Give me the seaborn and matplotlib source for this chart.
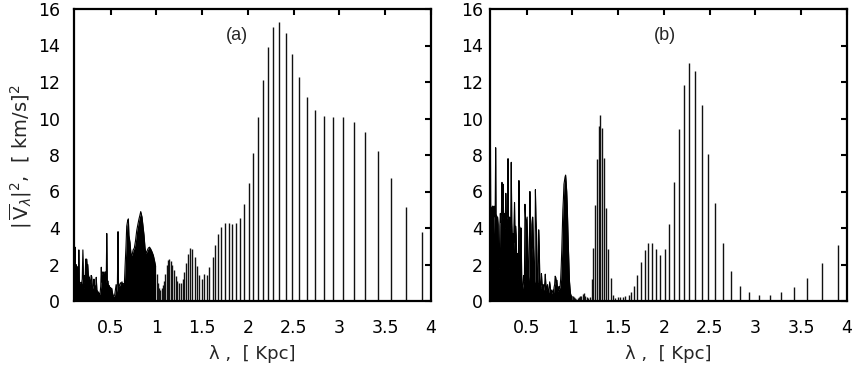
import numpy as np
import matplotlib
matplotlib.use("Agg")
import matplotlib.pyplot as plt
import seaborn as sns

# dense part of the spectra (lambda < 1 kpc), read as an envelope
lam_dense_a = [0.100, 0.104, 0.108, 0.112, 0.117, 0.122, 0.127, 0.132, 0.137, 0.142,
               0.148, 0.153, 0.158, 0.164, 0.170, 0.176, 0.183, 0.190, 0.197, 0.203,
               0.209, 0.215, 0.221, 0.228, 0.233, 0.238, 0.244, 0.250, 0.256, 0.262,
               0.268, 0.275, 0.281, 0.287, 0.293, 0.299, 0.305, 0.311, 0.318, 0.324,
               0.330, 0.337, 0.343, 0.350, 0.356, 0.363, 0.370, 0.377, 0.384, 0.392,
               0.398, 0.404, 0.410, 0.416, 0.422, 0.428, 0.434, 0.440, 0.446, 0.452,
               0.458, 0.464, 0.470, 0.477, 0.484, 0.491, 0.498, 0.505, 0.512, 0.520,
               0.528, 0.536, 0.545, 0.552, 0.560, 0.567, 0.574, 0.581, 0.586, 0.592,
               0.600, 0.608, 0.616, 0.624, 0.632, 0.640, 0.650, 0.658, 0.668, 0.676,
               0.686, 0.694, 0.700, 0.712, 0.722, 0.734, 0.746, 0.759, 0.772, 0.785,
               0.798, 0.810, 0.820, 0.829, 0.836, 0.843, 0.854, 0.865, 0.876, 0.887,
               0.899, 0.912, 0.925, 0.938, 0.952, 0.967, 0.980, 0.992]
v_dense_a = [2.9, 1.8, 1.1, 2.95, 1.2, 2.0, 1.0, 1.9, 1.2, 1.1,
             1.0, 2.8, 1.1, 1.0, 1.0, 1.0, 0.95, 1.2, 2.8, 1.2,
             0.7, 1.4, 1.1, 2.3, 1.4, 2.3, 1.9, 2.0, 1.5, 1.3,
             1.3, 0.9, 1.0, 1.4, 1.35, 0.8, 0.7, 0.8, 1.2, 0.85,
             0.8, 0.7, 1.3, 0.6, 0.55, 0.5, 0.45, 0.4, 0.35, 0.8,
             1.85, 1.1, 1.0, 1.6, 1.5, 1.0, 1.2, 1.6, 1.0, 1.2,
             3.7, 1.0, 1.1, 0.8, 0.85, 0.7, 0.75, 0.65, 0.7, 0.45,
             0.3, 0.25, 0.35, 0.6, 0.9, 0.5, 0.9, 3.8, 1.0, 0.8,
             0.85, 1.0, 0.95, 1.05, 0.9, 0.95, 0.9, 1.9, 3.0, 4.1,
             4.4, 4.5, 3.6, 3.2, 2.6, 2.5, 2.8, 2.9, 3.3, 3.85,
             4.2, 4.5, 4.7, 4.9, 4.75, 4.6, 4.1, 3.6, 2.9, 2.6,
             2.75, 2.9, 2.95, 2.85, 2.7, 2.5, 2.2, 1.9]

lam_dense_b = [0.100, 0.104, 0.108, 0.114, 0.120, 0.126, 0.132, 0.138, 0.144, 0.150,
               0.156, 0.162, 0.166, 0.171, 0.177, 0.183, 0.189, 0.195, 0.201, 0.207,
               0.213, 0.219, 0.225, 0.231, 0.237, 0.243, 0.249, 0.255, 0.261, 0.267,
               0.273, 0.279, 0.285, 0.291, 0.297, 0.302, 0.308, 0.314, 0.320, 0.326,
               0.332, 0.338, 0.344, 0.350, 0.356, 0.362, 0.368, 0.374, 0.380, 0.386,
               0.392, 0.398, 0.404, 0.410, 0.416, 0.422, 0.428, 0.434, 0.440, 0.446,
               0.452, 0.458, 0.464, 0.470, 0.476, 0.482, 0.488, 0.494, 0.500, 0.506,
               0.512, 0.518, 0.524, 0.530, 0.536, 0.542, 0.548, 0.554, 0.560, 0.566,
               0.572, 0.578, 0.584, 0.590, 0.596, 0.602, 0.608, 0.614, 0.620, 0.626,
               0.632, 0.638, 0.644, 0.650, 0.656, 0.662, 0.668, 0.674, 0.680, 0.686,
               0.692, 0.698, 0.704, 0.710, 0.716, 0.722, 0.728, 0.734, 0.740, 0.746,
               0.752, 0.758, 0.764, 0.770, 0.776, 0.782, 0.788, 0.794, 0.800, 0.806,
               0.812, 0.818, 0.824, 0.830, 0.836, 0.842, 0.848, 0.854, 0.860, 0.866,
               0.872, 0.878, 0.884, 0.890, 0.896, 0.902, 0.908, 0.914, 0.920, 0.926,
               0.932, 0.938, 0.944, 0.950, 0.956, 0.962, 0.968, 0.974, 0.980, 0.986,
               0.992, 0.998]
v_dense_b = [4.6, 9.9, 3.8, 5.1, 3.8, 5.2, 4.8, 3.6, 5.2, 4.7,
             4.6, 8.4, 4.4, 4.7, 4.5, 4.6, 4.2, 2.0, 1.8, 4.1,
             4.8, 4.3, 4.8, 6.5, 4.5, 6.4, 4.6, 4.8, 4.2, 4.0,
             5.9, 4.4, 4.8, 4.6, 7.8, 4.5, 4.4, 4.6, 4.0, 4.2,
             7.6, 4.3, 3.4, 3.7, 2.6, 4.2, 5.4, 3.2, 4.1, 3.6,
             2.2, 2.6, 1.5, 1.2, 6.6, 4.1, 4.0, 2.6, 4.0, 1.4,
             0.9, 0.7, 0.9, 1.4, 1.1, 5.3, 4.6, 4.4, 2.4, 4.6,
             3.0, 1.5, 1.1, 2.9, 6.0, 4.6, 4.2, 2.4, 1.1, 4.6,
             3.6, 2.3, 1.1, 1.0, 6.1, 4.5, 3.8, 2.0, 1.0, 0.9,
             3.9, 3.0, 1.2, 0.8, 0.7, 1.5, 1.0, 0.7, 0.9, 0.6,
             0.7, 1.0, 1.47, 0.9, 0.6, 0.75, 0.9, 0.55, 0.45, 0.7,
             1.05, 0.8, 0.5, 0.6, 0.4, 0.5, 0.6, 0.45, 0.75, 0.9,
             1.36, 1.3, 1.0, 1.14, 0.8, 0.55, 0.6, 0.8, 0.7, 0.8,
             1.2, 1.9, 2.8, 4.0, 5.0, 5.6, 6.4, 6.6, 6.8, 6.9,
             6.5, 6.0, 5.2, 4.0, 3.0, 2.0, 1.1, 0.7, 0.4, 0.3,
             0.25, 0.25]

# separate spectral lines (lambda > 1 kpc), same positions in both panels
lam_lines = [1.004, 1.017, 1.029, 1.042, 1.056, 1.069, 1.083, 1.098, 1.113, 1.128,
             1.143, 1.159, 1.176, 1.193, 1.210, 1.228, 1.247, 1.266, 1.286, 1.306,
             1.327, 1.349, 1.371, 1.394, 1.418, 1.443, 1.468, 1.493, 1.521, 1.549,
             1.579, 1.615, 1.645, 1.677, 1.710, 1.747, 1.790, 1.827, 1.867, 1.911,
             1.958, 2.009, 2.056, 2.107, 2.162, 2.217, 2.278, 2.344, 2.417, 2.486,
             2.563, 2.646, 2.734, 2.829, 2.931, 3.043, 3.156, 3.277, 3.419, 3.564,
             3.728, 3.907]
v_lines_a = [1.5, 1.0, 0.7, 0.6, 0.7, 0.85, 1.1, 1.5, 2.0, 2.25,
             2.3, 2.2, 1.95, 1.7, 1.35, 1.1, 0.98, 0.98, 1.2, 1.6,
             2.1, 2.6, 2.9, 2.85, 2.4, 1.9, 1.45, 1.2, 1.5, 1.45,
             1.87, 2.42, 3.08, 3.67, 4.07, 4.26, 4.26, 4.22, 4.26, 4.55,
             5.32, 6.46, 8.11, 10.06, 12.1, 13.9, 15.0, 15.27, 14.68, 13.54,
             12.26, 11.19, 10.46, 10.13, 10.06, 10.06, 9.83, 9.25, 8.20, 6.75,
             5.14, 3.80]
v_lines_b = [0.25, 0.2, 0.15, 0.12, 0.15, 0.2, 0.25, 0.3, 0.4, 0.45,
             0.3, 0.2, 0.15, 0.2, 1.19, 2.89, 5.26, 7.76, 9.59, 10.19,
             9.46, 7.82, 5.08, 2.83, 1.24, 0.33, 0.15, 0.24, 0.2, 0.24,
             0.27, 0.33, 0.51, 0.82, 1.41, 2.14, 2.79, 3.2, 3.2, 2.83,
             2.52, 2.83, 4.22, 6.54, 9.41, 11.82, 13.02, 12.58, 10.72, 8.04,
             5.35, 3.16, 1.66, 0.82, 0.47, 0.33, 0.33, 0.49, 0.75, 1.24,
             2.06, 3.05]

x_ticks = [0.5, 1, 1.5, 2, 2.5, 3, 3.5, 4]
x_ticklabels = ["0.5", "1", "1.5", "2", "2.5", "3", "3.5", "4"]
y_ticks = [0, 2, 4, 6, 8, 10, 12, 14, 16]

sns.set_style("white")
plt.rcParams["font.family"] = ["DejaVu Sans"]
plt.rcParams["mathtext.fontset"] = "dejavusans"

fig = plt.figure(figsize=(8.64, 3.72), dpi=100)
ax_a = fig.add_axes([74 / 864, 71 / 372, 357 / 864, 292 / 372])
ax_b = fig.add_axes([490 / 864, 71 / 372, 357 / 864, 292 / 372])

panels = [
    (ax_a, lam_dense_a, v_dense_a, v_lines_a, "(a)", 237, 10),
    (ax_b, lam_dense_b, v_dense_b, v_lines_b, "(b)", 665, 5),
]

for ax, lx, vy, vl, tag, tag_x, ypad in panels:
    ax.fill_between(lx, 0, vy, color="black", lw=0)
    sns.lineplot(x=lx, y=vy, ax=ax, color="black", lw=0.8, estimator=None, sort=False)
    ax.vlines(lam_lines, 0, vl, color="#111111", lw=1.0)
    ax.set_xlim(0.1, 4.0)
    ax.set_ylim(0, 16)
    ax.set_xticks(x_ticks)
    ax.set_xticklabels(x_ticklabels)
    ax.set_yticks(y_ticks)
    ax.tick_params(axis="both", direction="in", top=True, right=True,
                   length=4, width=1.5, labelsize=12.5, colors="black")
    ax.tick_params(axis="x", pad=13)
    ax.tick_params(axis="y", pad=ypad)
    for s in ax.spines.values():
        s.set_linewidth(1.6)
        s.set_color("black")
    ax.set_xlabel("λ ,  [ Kpc]", fontsize=13, labelpad=6)
    ax.set_ylabel("")
    fig.text(tag_x / 864, 1 - 36 / 372, tag, fontsize=13, ha="center", va="center",
             family="Liberation Sans")

fig.text(21 / 864, 1 - 157 / 372,
         r"$|\,\overline{\mathrm{V}}_{\lambda}|^{2}$,  [ km/s]$^{2}$",
         rotation=90, ha="center", va="center", fontsize=14)

fig.savefig("out.png", dpi=100)
